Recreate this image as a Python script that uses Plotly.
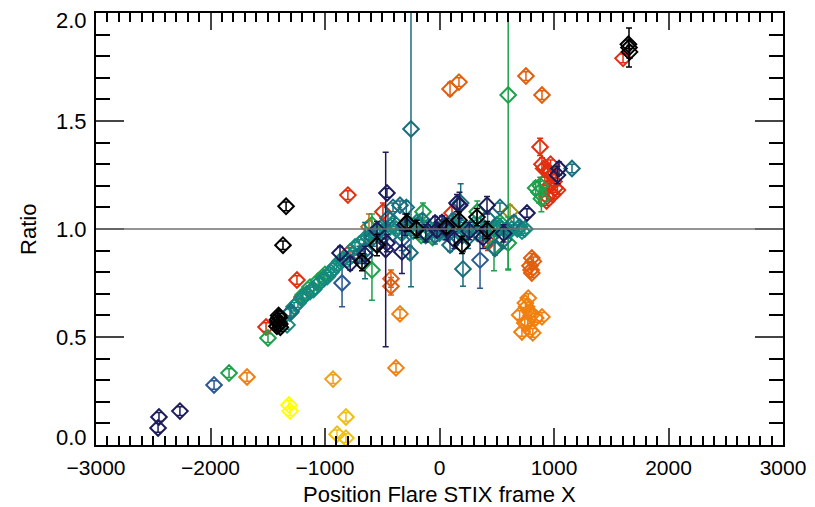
import plotly.graph_objects as go

# ---------------- data (x position, ratio, error) ----------------
YELLOW_X = [-1315, -1305]
YELLOW_Y = [0.185, 0.157]
YELLOW_E = [0.02, 0.02]

GOLD_X = [-895, -817, -817]
GOLD_Y = [0.050, 0.032, 0.130]
GOLD_E = [0.02, 0.02, 0.02]

AMBER_X = [-930]
AMBER_Y = [0.305]
AMBER_E = [0.02]

ORANGE_X = [-1681, -345, -380, 775, 750, 790, 840, 700, 745, 720, 790, 815, 895, 800, 770, 760]
ORANGE_Y = [0.315, 0.607, 0.357, 0.680, 0.657, 0.616, 0.588, 0.602, 0.565, 0.523, 0.532, 0.519, 0.593, 0.600, 0.570, 0.640]
ORANGE_E = [0.02] * 16

DORANGE_X = [92, 170, 755, 895, -424, -424, 806, 806, 790, 820, 800]
DORANGE_Y = [1.648, 1.680, 1.708, 1.620, 0.770, 0.735, 0.866, 0.796, 0.830, 0.850, 0.810]
DORANGE_E = [0.03, 0.02, 0.02, 0.02, 0.04, 0.04, 0.02, 0.02, 0.02, 0.02, 0.02]

RED_X = [-800, -1245, -1200, -1515, 878, 895, 910, 950, 980, 1000, 1010, 960, 990, 920, 940, 935, 1603,
         109, 424, -494, -782, 441, 1030, 970]
RED_Y = [1.157, 0.764, 0.685, 0.546, 1.380, 1.300, 1.280, 1.270, 1.250, 1.220, 1.190, 1.200, 1.160, 1.220, 1.150, 1.130, 1.790,
         1.074, 0.940, 1.080, 0.894, 0.960, 1.180, 1.300]
RED_E = [0.02, 0.02, 0.03, 0.02, 0.04, 0.03, 0.02, 0.02, 0.02, 0.02, 0.02, 0.02, 0.02, 0.02, 0.02, 0.02, 0.02,
         0.04, 0.04, 0.04, 0.02, 0.03, 0.02, 0.02]

BROWN_X = [-616]
BROWN_Y = [1.010]
BROWN_E = [0.06]

OLIVE_X = [616]
OLIVE_Y = [1.080]
OLIVE_E = [0.03]

GREEN_X = [-1838, -1498, 600, -590, 476, 600, -144, 870, 880, 890, -1019, -1131, -1192, -1060, -1000,
           -590, -160, -120, -60, 528, 500, 330, 840]
GREEN_Y = [0.333, 0.495, 1.620, 0.810, 0.917, 0.935, 1.080, 1.170, 1.200, 1.140, 0.778, 0.731, 0.694, 0.760, 0.790,
           1.020, 0.970, 0.980, 0.960, 1.030, 1.000, 1.080, 1.190]
GREEN_E = [0.02, 0.02, 0.81, 0.14, 0.11, 0.12, 0.04, 0.05, 0.04, 0.06, 0.02, 0.02, 0.02, 0.02, 0.02,
           0.05, 0.02, 0.02, 0.02, 0.02, 0.03, 0.05, 0.03]

BLUE_X = [-1969, -851, 354, -330, 50]
BLUE_Y = [0.278, 0.750, 0.856, 0.950, 0.990]
BLUE_E = [0.02, 0.11, 0.13, 0.05, 0.04]

TEALG_X = [-1331, -1306, -1236, -1160, -1100, -1050, -980, -920, -870, -808, -760, -738, -700, -660, -620,
           -560, -520, -480, -430, -380, -330, -280, -230, -180, -120, -70, -20, 30, 80, 130, 180, 230,
           280, 330, 380, 430, 480, 530, 580, 630, 680, 720, 745,
           -1270, -1200, -1130, -1010, -950, -900, -840, -600, -500, -400, -300, -200, -100, 0, 100, 200, 300, 400, 500, 600, 700]
TEALG_Y = [0.556, 0.611, 0.657, 0.700, 0.720, 0.750, 0.780, 0.820, 0.850, 0.856, 0.880, 0.917, 0.930, 0.950, 0.960,
           0.980, 1.000, 0.990, 1.010, 1.000, 0.980, 1.020, 0.990, 1.010, 0.970, 0.990, 1.000, 1.010, 0.980, 1.000, 1.020, 0.990,
           1.000, 0.980, 1.010, 0.990, 1.000, 1.010, 0.990, 1.000, 1.000, 0.990, 1.000,
           0.640, 0.680, 0.710, 0.770, 0.800, 0.830, 0.860, 0.970, 0.960, 1.030, 1.000, 1.030, 1.010, 0.980, 1.030, 0.970, 1.020, 0.980, 1.020, 0.990, 1.010]
TEALG_E = [0.02] * len(TEALG_X)

TEAL_X = [-249, 1157, 205, -1297, 185, -406, -345, -290, 528, -258, 92, 485, -650, -580, -450, -150, -40, 250, 420, 560,
          650, -700, 120]
TEAL_Y = [1.463, 1.280, 0.815, 0.617, 1.120, 1.100, 1.110, 1.100, 1.100, 0.890, 0.926, 0.910, 0.900, 0.960, 1.050, 1.040, 0.970, 0.960, 1.050, 0.950,
          1.030, 0.880, 1.040]
TEAL_E = [0.73, 0.02, 0.08, 0.02, 0.09, 0.02, 0.02, 0.03, 0.02, 0.03, 0.03, 0.03, 0.13, 0.04, 0.03, 0.03, 0.04, 0.05, 0.03, 0.04,
          0.03, 0.04, 0.03]

NAVY_X = [-2458, -2450, -2267, -459, -470, -869, -328, 175, 415, 764, 1044, -546, -22, 22, 153, -459, -39, 1030,
          -300, -120, 60, 130, 260, 380, 560, -650, -780]
NAVY_Y = [0.079, 0.130, 0.157, 1.167, 0.905, 0.889, 0.894, 1.110, 1.110, 1.074, 1.280, 0.995, 0.995, 1.030, 1.120, 0.935, 1.028, 1.250,
          1.020, 0.980, 1.000, 0.950, 0.990, 0.960, 0.980, 0.880, 0.840]
NAVY_E = [0.02, 0.02, 0.02, 0.02, 0.45, 0.03, 0.10, 0.06, 0.04, 0.02, 0.03, 0.04, 0.03, 0.03, 0.04, 0.04, 0.03, 0.04,
          0.05, 0.04, 0.05, 0.04, 0.04, 0.05, 0.04, 0.04, 0.03]

BLACK_X = [-1340, -1367, -1410, -1400, -1420, -1395, -1405, -1415, -1390, 1655, 1660, 1650,
           -677, -546, -284, 196, 327, 415, 60, 170, -200]
BLACK_Y = [1.105, 0.925, 0.570, 0.590, 0.550, 0.560, 0.600, 0.580, 0.545, 1.840, 1.820, 1.855,
           0.847, 0.926, 1.030, 0.926, 1.055, 0.995, 1.010, 1.040, 1.000]
BLACK_E = [0.02, 0.02, 0.02, 0.02, 0.02, 0.02, 0.02, 0.02, 0.02, 0.09, 0.03, 0.02,
           0.04, 0.05, 0.04, 0.04, 0.04, 0.04, 0.03, 0.04, 0.04]

Y_TICKS = [0.0, 0.5, 1.0, 1.5, 2.0]
Y_TICK_TEXT = ["0.0", "0.5", "1.0", "1.5", "2.0"]

GROUPS = [
    ("#ffff00", YELLOW_X, YELLOW_Y, YELLOW_E),
    ("#f0c010", GOLD_X, GOLD_Y, GOLD_E),
    ("#f0a020", AMBER_X, AMBER_Y, AMBER_E),
    ("#f08010", ORANGE_X, ORANGE_Y, ORANGE_E),
    ("#e06010", DORANGE_X, DORANGE_Y, DORANGE_E),
    ("#e03010", RED_X, RED_Y, RED_E),
    ("#b87020", BROWN_X, BROWN_Y, BROWN_E),
    ("#a09020", OLIVE_X, OLIVE_Y, OLIVE_E),
    ("#1fa04a", GREEN_X, GREEN_Y, GREEN_E),
    ("#2b5a92", BLUE_X, BLUE_Y, BLUE_E),
    ("#148a7e", TEALG_X, TEALG_Y, TEALG_E),
    ("#1a6e7e", TEAL_X, TEAL_Y, TEAL_E),
    ("#1c1c5c", NAVY_X, NAVY_Y, NAVY_E),
    ("#000000", BLACK_X, BLACK_Y, BLACK_E),
]

fig = go.Figure()
for color, xs, ys, es in GROUPS:
    fig.add_trace(go.Scatter(
        x=xs, y=ys, mode="markers",
        marker=dict(symbol="diamond-open", size=12, color=color, line=dict(width=2, color=color)),
        error_y=dict(type="data", array=es, visible=True, color=color, thickness=1.5, width=3),
        showlegend=False, hoverinfo="skip", cliponaxis=True,
    ))

fig.add_shape(type="line", xref="paper", x0=0, x1=1, yref="y", y0=1.0, y1=1.0,
              line=dict(color="#707070", width=1.5), layer="above")

FONT = "Liberation Sans, Arial, Helvetica, sans-serif"

# y tick labels as text (IDL shifts the end labels inward)
for v, t in zip(Y_TICKS, Y_TICK_TEXT):
    shift = 8 if v == Y_TICKS[0] else (-7 if v == Y_TICKS[-1] else 0)
    fig.add_annotation(x=0, xref="paper", y=v, yref="y", text=t, showarrow=False,
                       xanchor="right", yanchor="middle", xshift=-7, yshift=shift,
                       font=dict(family=FONT, size=22, color="black"))

fig.add_annotation(x=0.5, xref="paper", y=-0.1157, yref="paper", text="Position Flare STIX frame X",
                   showarrow=False, xanchor="center", yanchor="middle", borderpad=0,
                   font=dict(family=FONT, size=22, color="black"))
fig.add_annotation(x=-0.099, xref="paper", y=0.5, yref="paper", text="Ratio", textangle=-90,
                   showarrow=False, xanchor="center", yanchor="middle",
                   font=dict(family=FONT, size=22, color="black"))

fig.update_layout(
    width=815, height=507,
    margin=dict(l=96, r=32, t=13, b=62),
    plot_bgcolor="white", paper_bgcolor="white",
    font=dict(family=FONT, size=22, color="black"),
    xaxis=dict(
        range=[-3000, 3000], dtick=1000, tick0=0, ticks="inside", ticklen=17, tickwidth=2,
        showline=True, linewidth=2, linecolor="black", mirror="ticks", showgrid=False, zeroline=False,
        minor=dict(dtick=100, ticks="inside", ticklen=9, tickwidth=2, tickcolor="black", showgrid=False),
        tickfont=dict(size=21), ticklabelstandoff=3, automargin=False,
    ),
    yaxis=dict(
        range=[0, 2.0], dtick=0.5, tick0=0, ticks="inside", ticklen=28, tickwidth=2,
        showticklabels=False,
        showline=True, linewidth=2, linecolor="black", mirror="ticks", showgrid=False, zeroline=False,
        minor=dict(dtick=0.1, ticks="inside", ticklen=14, tickwidth=2, tickcolor="black", showgrid=False),
        automargin=False,
    ),
)

fig.write_html("out.html")
